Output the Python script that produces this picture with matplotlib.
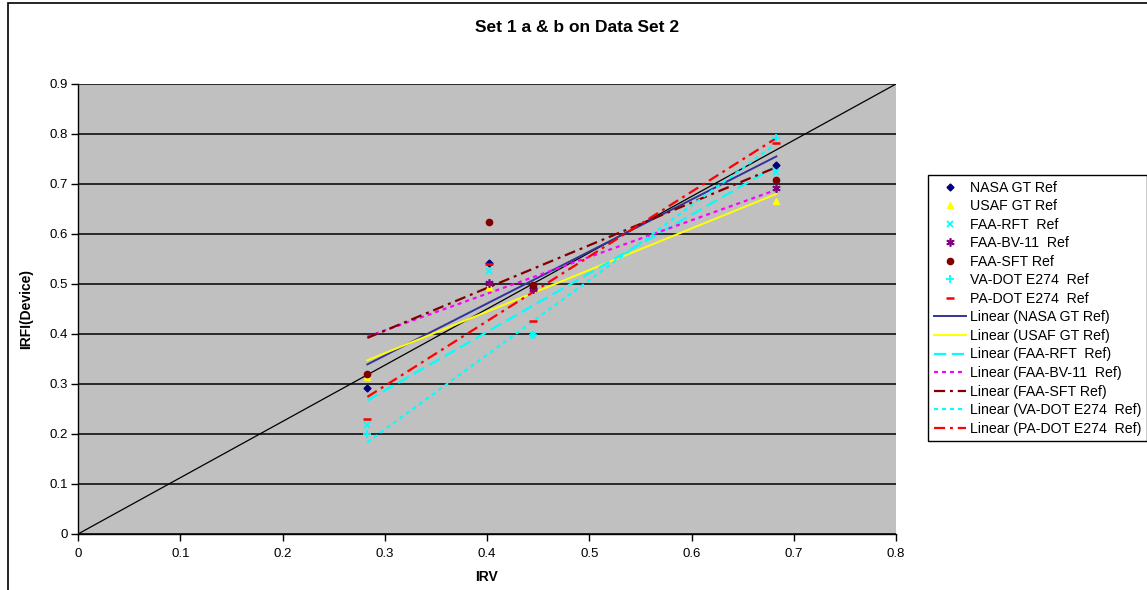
import numpy as np
import matplotlib
matplotlib.use("Agg")
import matplotlib.pyplot as plt
from matplotlib.patches import Rectangle
from matplotlib.lines import Line2D

# ---- data ----
irv = [0.283, 0.402, 0.445, 0.683]
nasa_gt = [0.293, 0.542, 0.492, 0.738]
usaf_gt = [0.314, 0.494, np.nan, 0.666]
faa_rft = [0.218, 0.526, 0.398, 0.724]
faa_bv11 = [np.nan, 0.502, 0.490, 0.692]
faa_sft = [0.320, 0.624, 0.498, 0.708]
va_dot = [0.200, np.nan, 0.398, 0.792]
pa_dot = [0.230, 0.540, 0.426, 0.782]

series_names = ["NASA GT Ref", "USAF GT Ref", "FAA-RFT  Ref", "FAA-BV-11  Ref",
                "FAA-SFT Ref", "VA-DOT E274  Ref", "PA-DOT E274  Ref"]
series_values = [nasa_gt, usaf_gt, faa_rft, faa_bv11, faa_sft, va_dot, pa_dot]

ref_line_x = [0.0, 0.8]
ref_line_y = [0.0, 0.9]

x_ticks = [0, 0.1, 0.2, 0.3, 0.4, 0.5, 0.6, 0.7, 0.8]
y_ticks = [0, 0.1, 0.2, 0.3, 0.4, 0.5, 0.6, 0.7, 0.8, 0.9]

# ---- styles ----
marker_styles = [
    dict(marker="D", color="#000080", ms=3.5, mec="#000080"),
    dict(marker="^", color="#FFFF00", ms=4.5, mec="#FFFF00"),
    dict(marker="x", color="#00FFFF", ms=5, mew=1.3),
    dict(marker=(6, 2, 0), color="#800080", ms=6, mew=1.2),
    dict(marker="o", color="#800000", ms=4.5, mec="#800000"),
    dict(marker="+", color="#00FFFF", ms=6, mew=1.3),
    dict(marker="_", color="#FF0000", ms=6, mew=1.8),
]
line_styles = [
    dict(color="#333399", lw=1.4, ls="-"),
    dict(color="#FFFF00", lw=1.4, ls="-"),
    dict(color="#00FFFF", lw=1.6, ls=(0, (5.5, 2.5))),
    dict(color="#FF00FF", lw=1.6, ls=(0, (1.8, 1.8))),
    dict(color="#800000", lw=1.6, ls=(0, (5, 2.2, 1.3, 2.2))),
    dict(color="#00FFFF", lw=1.6, ls=(0, (1.8, 1.8))),
    dict(color="#FF0000", lw=1.6, ls=(0, (5, 2.2, 1.3, 2.2))),
]

plt.rcParams["font.family"] = ["Liberation Sans", "DejaVu Sans"]

fig = plt.figure(figsize=(11.47, 5.90), dpi=100)
fig.patch.set_facecolor("white")
ax = fig.add_axes([78 / 1147, 1 - 534 / 590, (896 - 78) / 1147, (534 - 84) / 590])
ax.set_facecolor("#C0C0C0")

# chart border (left and top visible)
fig.add_artist(Rectangle((8 / 1147, -0.01), 1.0, 1.01 - 2.5 / 590,
                         transform=fig.transFigure, fill=False, ec="#000000", lw=1.2))

ax.set_xlim(0, 0.8)
ax.set_ylim(0, 0.9)
ax.set_xticks(x_ticks)
ax.set_yticks(y_ticks)
ax.set_xticklabels([f"{v:g}" for v in x_ticks])
ax.set_yticklabels([f"{v:g}" for v in y_ticks])
ax.tick_params(direction="out", length=5, width=1, labelsize=9.5, colors="black", pad=2)
ax.tick_params(axis="x", pad=5)
ax.yaxis.grid(True, color="#000000", lw=1.1)
ax.set_axisbelow(True)
for s in ["top", "right"]:
    ax.spines[s].set_visible(False)
for s in ["left", "bottom"]:
    ax.spines[s].set_color("black")
    ax.spines[s].set_linewidth(1.0)

# reference line
ax.plot(ref_line_x, ref_line_y, color="black", lw=0.9, zorder=2)

xarr = np.array(irv)
xfit = np.array([xarr.min(), xarr.max()])
handles_m, handles_l = [], []
for name, vals, ms, ls in zip(series_names, series_values, marker_styles, line_styles):
    y = np.array(vals, dtype=float)
    ok = ~np.isnan(y)
    k, b = np.polyfit(xarr[ok], y[ok], 1)
    ax.plot(xfit, k * xfit + b, zorder=3, **ls)
    ax.plot(xarr[ok], y[ok], ls="none", zorder=4, **ms)
    handles_m.append(Line2D([], [], ls="none", label=name, **ms))
    handles_l.append(Line2D([], [], label=f"Linear ({name})", **ls))

ax.set_xlabel("IRV", fontsize=10, fontweight="bold", labelpad=7)
ax.set_ylabel("IRFI(Device)", fontsize=10, fontweight="bold", labelpad=12)
fig.text(0.503, 1 - 28 / 590, "Set 1 a & b on Data Set 2", ha="center", va="center",
         fontsize=12.5, fontweight="bold")

leg = fig.legend(handles=handles_m + handles_l, loc="upper left",
                 bbox_to_anchor=(928 / 1147, 1 - 175 / 590), fontsize=10.2,
                 frameon=True, fancybox=False, edgecolor="black", framealpha=1,
                 labelspacing=0.32, handlelength=2.3, handletextpad=0.25,
                 borderpad=0.4, borderaxespad=0)
leg.get_frame().set_linewidth(1.0)

fig.savefig("out.png", dpi=100)
